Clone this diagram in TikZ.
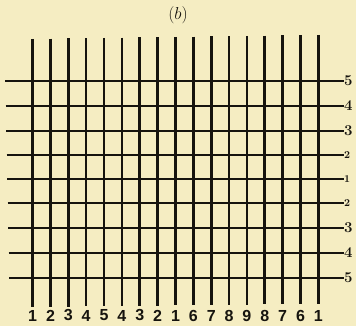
\documentclass[tikz,border=0pt]{standalone}
\usepackage{fontspec}
\newfontfamily\sfnum{Liberation Sans}
\definecolor{paper}{RGB}{245,237,194}
\definecolor{ink}{RGB}{22,20,14}
\tikzset{
  warp/.style={line width=2.6pt, draw=ink},
  weft/.style={line width=1.2pt, draw=ink},
  rightlab/.style={font=\fontsize{15}{15}\selectfont\bfseries, text=ink, inner sep=0pt, anchor=west},
  smalllab/.style={font=\fontsize{10.5}{10.5}\selectfont\bfseries, text=ink, inner sep=0pt, anchor=west},
  botlab/.style={font=\sfnum\bfseries\fontsize{16}{16}\selectfont, text=ink, inner sep=0pt},
}
\begin{document}
\begin{tikzpicture}[x=1pt,y=-1pt]
\fill[paper] (0,0) rectangle (356,326);
\useasboundingbox (0,0) rectangle (356,326);
\node[font=\fontsize{18}{18}\selectfont, text=ink] (title) at (178,15) {$(b)$};
\foreach \k/\l in {0/1,1/2,2/3,3/4,4/5,5/4,6/3,7/2,8/1,9/6,10/7,11/8,12/9,13/8,14/7,15/6,16/1} {
  \pgfmathsetmacro{\xx}{32.6+17.86*\k}
  \pgfmathsetmacro{\yt}{39-0.25*\k}
  \pgfmathsetmacro{\yb}{307-0.2*\k}
  \draw[warp] (\xx,\yt) -- (\xx,\yb);
  \node[botlab] (b\k) at (\xx,315.5) {\l};
}
\foreach \i/\y/\l/\s in {0/81/5/rightlab,1/106/4/rightlab,2/131/3/rightlab,3/155/2/smalllab,4/179/1/smalllab,5/203/2/smalllab,6/228/3/rightlab,7/253/4/rightlab,8/278/5/rightlab} {
  \pgfmathsetmacro{\xs}{5+0.5*\i}
  \node[\s] (r\i) at (344,\y) {\l};
  \draw[weft] (\xs,\y) -- (r\i.west);
}
\end{tikzpicture}
\end{document}
